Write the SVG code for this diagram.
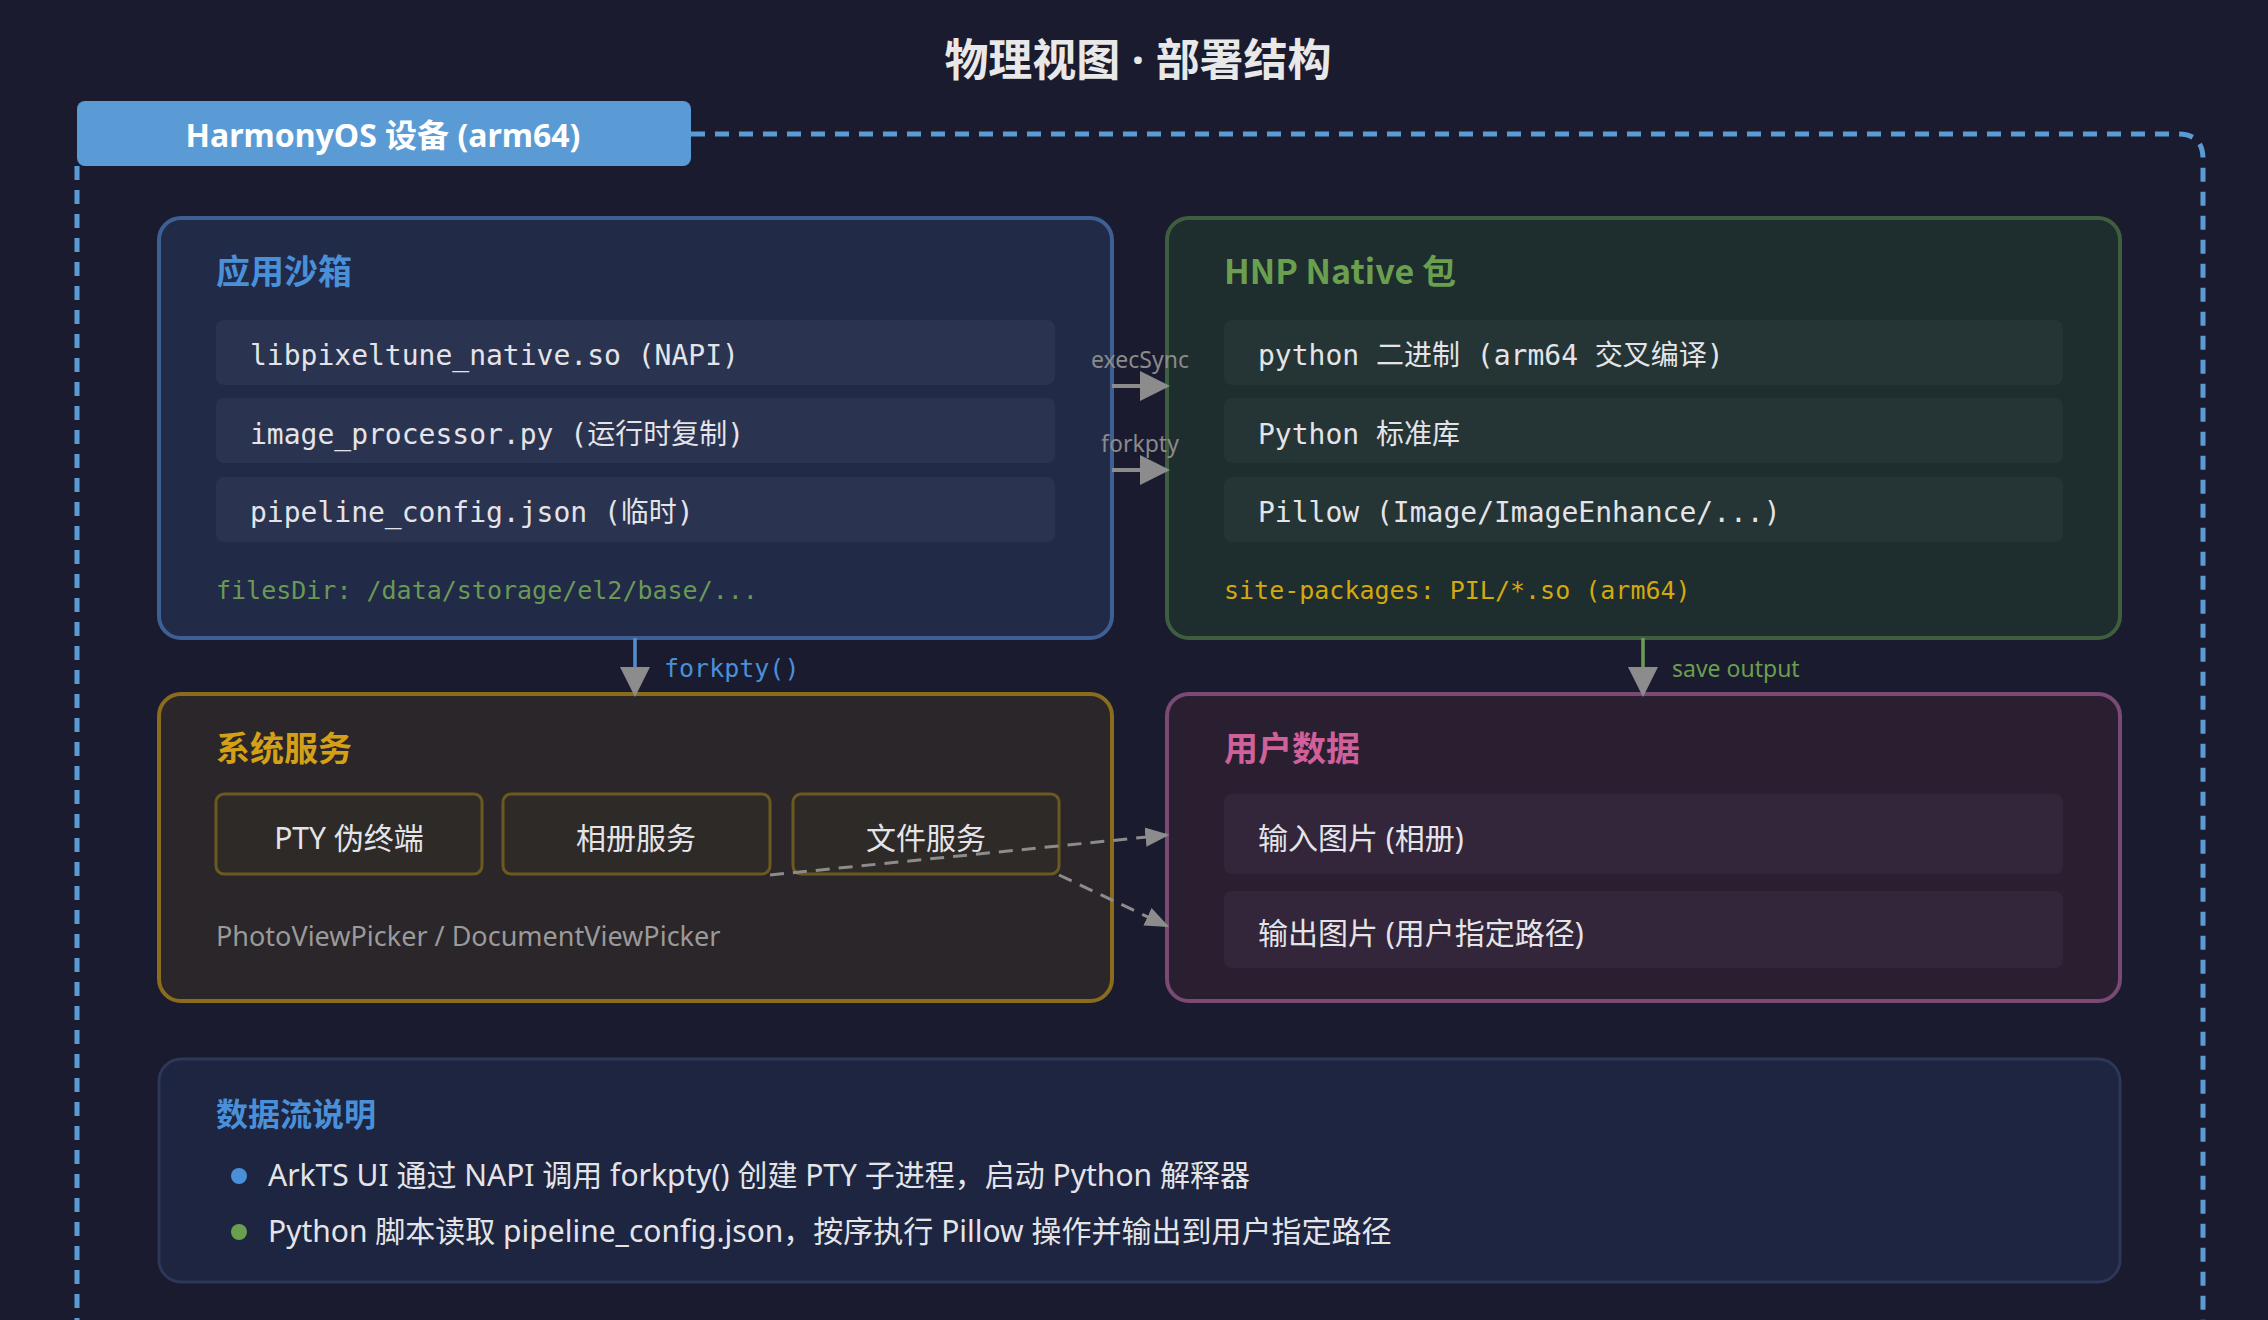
<svg xmlns="http://www.w3.org/2000/svg" width="2268" height="1320" viewBox="0 0 2268 1320">
<style>
.mono{font-family:"DejaVu Sans Mono","Noto Sans CJK SC",monospace;font-size:28px;fill:#e4e4e8}
.sans{font-family:"Noto Sans","Noto Sans CJK SC",sans-serif}
.ttl{font-family:"Noto Sans CJK SC","Noto Sans",sans-serif;font-size:34px;font-weight:bold}
.item{font-family:"Noto Sans","Noto Sans CJK SC",sans-serif;font-size:30px;fill:#e4e4e8}
.lbl{font-family:"Noto Sans",sans-serif;font-size:23px;fill:#8a8a8a}
</style>
<defs>
<marker id="ag" viewBox="0 0 10 10" refX="9" refY="5" markerWidth="30" markerHeight="30" orient="auto" markerUnits="userSpaceOnUse"><path d="M0,0L10,5L0,10z" fill="#8c8c8c"/></marker>
<marker id="ad" viewBox="0 0 10 10" refX="9" refY="5" markerWidth="24" markerHeight="24" orient="auto" markerUnits="userSpaceOnUse"><path d="M0,1L10,5L0,9z" fill="#8c8c8c"/></marker>
</defs>
<rect width="2268" height="1320" fill="#1a1b2e"/>
<text x="1138" y="76" text-anchor="middle" class="ttl" style="font-size:44px" fill="#e8e8e8">物理视图<tspan font-family="Noto Sans"> · </tspan>部署结构</text>
<g id="device">
<path d="M77,166 V1320 M691,134 H2178 Q2203,134 2203,159 V1320" fill="none" stroke="#5b9bd5" stroke-width="5" stroke-dasharray="14,10"/>
<rect x="77" y="101" width="614" height="65" rx="8" fill="#5b9bd5"/>
<text x="383" y="147" text-anchor="middle" class="sans" font-size="32" font-weight="bold" fill="#fff">HarmonyOS 设备 (arm64)</text>
</g>
<g id="sandbox">
<rect x="159" y="218" width="953" height="420" rx="22" fill="#212a47" stroke="#3d5f94" stroke-width="4"/>
<text x="216" y="284" class="ttl" fill="#4a90d9">应用沙箱</text>
<rect x="216" y="320" width="839" height="65" rx="8" fill="#2a3350"/>
<rect x="216" y="398" width="839" height="65" rx="8" fill="#2a3350"/>
<rect x="216" y="477" width="839" height="65" rx="8" fill="#2a3350"/>
<text x="250" y="365" class="mono">libpixeltune_native.so (NAPI)</text>
<text x="250" y="444" class="mono">image_processor.py (运行时复制)</text>
<text x="250" y="522" class="mono">pipeline_config.json (临时)</text>
<text x="216" y="599" class="mono" style="font-size:25px;fill:#6a9955">filesDir: /data/storage/el2/base/...</text>
</g>
<g id="hnp">
<rect x="1167" y="218" width="953" height="420" rx="22" fill="#1e2d2d" stroke="#3f5e3f" stroke-width="4"/>
<text x="1224" y="284" class="ttl" fill="#6a9f50">HNP Native 包</text>
<rect x="1224" y="320" width="839" height="65" rx="8" fill="#253535"/>
<rect x="1224" y="398" width="839" height="65" rx="8" fill="#253535"/>
<rect x="1224" y="477" width="839" height="65" rx="8" fill="#253535"/>
<text x="1258" y="365" class="mono">python 二进制 (arm64 交叉编译)</text>
<text x="1258" y="444" class="mono">Python 标准库</text>
<text x="1258" y="522" class="mono">Pillow (Image/ImageEnhance/...)</text>
<text x="1224" y="599" class="mono" style="font-size:25px;fill:#d4a80f">site-packages: PIL/*.so (arm64)</text>
</g>
<g id="system">
<rect x="159" y="694" width="953" height="307" rx="22" fill="#2a2629" stroke="#8a6d1a" stroke-width="4"/>
<text x="216" y="761" class="ttl" fill="#d4a017">系统服务</text>
<rect x="216" y="794" width="266" height="80" rx="8" fill="#2e2a28" stroke="#6b5a1f" stroke-width="3"/>
<rect x="503" y="794" width="267" height="80" rx="8" fill="#2e2a28" stroke="#6b5a1f" stroke-width="3"/>
<rect x="793" y="794" width="266" height="80" rx="8" fill="#2e2a28" stroke="#6b5a1f" stroke-width="3"/>
<text x="349" y="849" text-anchor="middle" class="item">PTY 伪终端</text>
<text x="636" y="849" text-anchor="middle" class="item">相册服务</text>
<text x="926" y="849" text-anchor="middle" class="item">文件服务</text>
<text x="216" y="946" class="sans" font-size="27" fill="#9a9a9a">PhotoViewPicker / DocumentViewPicker</text>
</g>
<g id="userdata">
<rect x="1167" y="694" width="953" height="307" rx="22" fill="#2a1f30" stroke="#7a4a75" stroke-width="4"/>
<text x="1224" y="761" class="ttl" fill="#d0609a">用户数据</text>
<rect x="1224" y="794" width="839" height="80" rx="8" fill="#33253a"/>
<rect x="1224" y="891" width="839" height="77" rx="8" fill="#33253a"/>
<text x="1258" y="849" class="item">输入图片 (相册)</text>
<text x="1258" y="944" class="item">输出图片 (用户指定路径)</text>
</g>
<g id="notes">
<rect x="159" y="1059" width="1961" height="223" rx="22" fill="#1d2540" stroke="#2d3758" stroke-width="3"/>
<text x="216" y="1126" class="ttl" style="font-size:32px" fill="#4a90d9">数据流说明</text>
<circle cx="239" cy="1176" r="8" fill="#4a90d9"/>
<circle cx="239" cy="1232" r="8" fill="#6a9f50"/>
<text x="268" y="1186" class="item">ArkTS UI 通过 NAPI 调用 forkpty() 创建 PTY 子进程，启动 Python 解释器</text>
<text x="268" y="1242" class="item">Python 脚本读取 pipeline_config.json，按序执行 Pillow 操作并输出到用户指定路径</text>
</g>
<g id="connectors">
<line x1="1112" y1="386" x2="1167" y2="386" stroke="#8c8c8c" stroke-width="4" marker-end="url(#ag)"/>
<line x1="1112" y1="470" x2="1167" y2="470" stroke="#8c8c8c" stroke-width="4" marker-end="url(#ag)"/>
<text x="1140" y="368" text-anchor="middle" class="lbl">execSync</text>
<text x="1140" y="452" text-anchor="middle" class="lbl">forkpty</text>
<line x1="635" y1="638" x2="635" y2="694" stroke="#8c8c8c" stroke-width="3" marker-end="url(#ag)"/>
<line x1="635" y1="638" x2="635" y2="668" stroke="#4a90d9" stroke-width="3"/>
<text x="664" y="677" class="mono" style="font-size:25px;fill:#4a90d9">forkpty()</text>
<line x1="1643" y1="638" x2="1643" y2="694" stroke="#8c8c8c" stroke-width="3" marker-end="url(#ag)"/>
<line x1="1643" y1="638" x2="1643" y2="668" stroke="#6a9f50" stroke-width="3"/>
<text x="1672" y="677" class="sans" font-size="23" fill="#6a9f50">save output</text>
<line x1="770" y1="875" x2="1167" y2="835" stroke="#8c8c8c" stroke-width="3" stroke-dasharray="14,9" marker-end="url(#ad)"/>
<line x1="1059" y1="875" x2="1167" y2="926" stroke="#8c8c8c" stroke-width="3" stroke-dasharray="14,9" marker-end="url(#ad)"/>
</g>
</svg>
